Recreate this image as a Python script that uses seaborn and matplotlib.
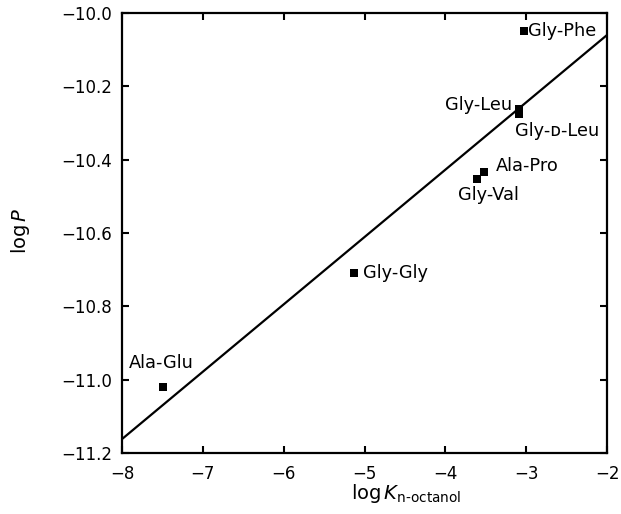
import matplotlib
matplotlib.use("Agg")
import matplotlib.pyplot as plt
import seaborn as sns
import pandas as pd

# Data
peptides = ["Gly-Phe", "Gly-Leu", "Gly-D-Leu", "Ala-Pro", "Gly-Val", "Gly-Gly", "Ala-Glu"]
label_text = ["Gly-Phe", "Gly-Leu", "Gly-\u1d05-Leu", "Ala-Pro", "Gly-Val", "Gly-Gly", "Ala-Glu"]
log_k = [-3.025, -3.09, -3.09, -3.52, -3.61, -5.13, -7.49]
log_p = [-10.05, -10.263, -10.275, -10.434, -10.453, -10.708, -11.02]
fit_x = [-8.0, -2.0]
fit_y = [-11.162, -10.06]
x_ticks = [-8, -7, -6, -5, -4, -3, -2]
y_ticks = [-10.0, -10.2, -10.4, -10.6, -10.8, -11.0, -11.2]

# label offsets in points (style)
offsets = [(3, 0, "left"), (-5, 3.5, "right"), (-3, -12, "left"), (8.5, 4.5, "left"),
           (-13.5, -11.5, "left"), (6.5, 0, "left"), (-25, 17, "left")]

sns.set_theme(style="ticks")
plt.rcParams["font.family"] = ["DejaVu Sans"]

fig = plt.figure(figsize=(6.21, 5.14), dpi=100)
ax = fig.add_axes([0.1965, 0.1187, 0.781, 0.856])

df = pd.DataFrame({"x": log_k, "y": log_p, "name": peptides})
fit = pd.DataFrame({"x": fit_x, "y": fit_y})

sns.lineplot(data=fit, x="x", y="y", ax=ax, color="black", linewidth=1.6)
sns.scatterplot(data=df, x="x", y="y", ax=ax, marker="s", s=26, color="black",
                edgecolor="black", linewidth=0)

for lab, xv, yv, (dx, dy, ha) in zip(label_text, log_k, log_p, offsets):
    ax.annotate(lab, (xv, yv), xytext=(dx, dy), textcoords="offset points",
                ha=ha, va="center", fontsize=12.8, color="black")

ax.set_xlim(-8, -2)
ax.set_ylim(-11.2, -10.0)
ax.set_xticks(x_ticks)
ax.set_yticks(y_ticks)
ax.set_xticklabels([f"\u2212{abs(v)}" for v in x_ticks])
ax.set_yticklabels([f"\u2212{abs(v):.1f}" for v in y_ticks])
ax.tick_params(direction="in", top=True, right=True, length=5, width=1.5,
               labelsize=12, colors="black")
ax.tick_params(axis="x", pad=9)
ax.tick_params(axis="y", pad=7)
for sp in ax.spines.values():
    sp.set_linewidth(1.6)
    sp.set_color("black")
    sp.set_visible(True)

ax.set_xlabel(r"log$\,K_{\mathrm{n\text{-}octanol}}$", fontsize=14, color="black")
ax.set_ylabel(r"log$\,P$", fontsize=14, color="black")
ax.xaxis.set_label_coords(0.585, -0.066)
ax.yaxis.set_label_coords(-0.185, 0.505)

fig.savefig("out.png", dpi=100)
